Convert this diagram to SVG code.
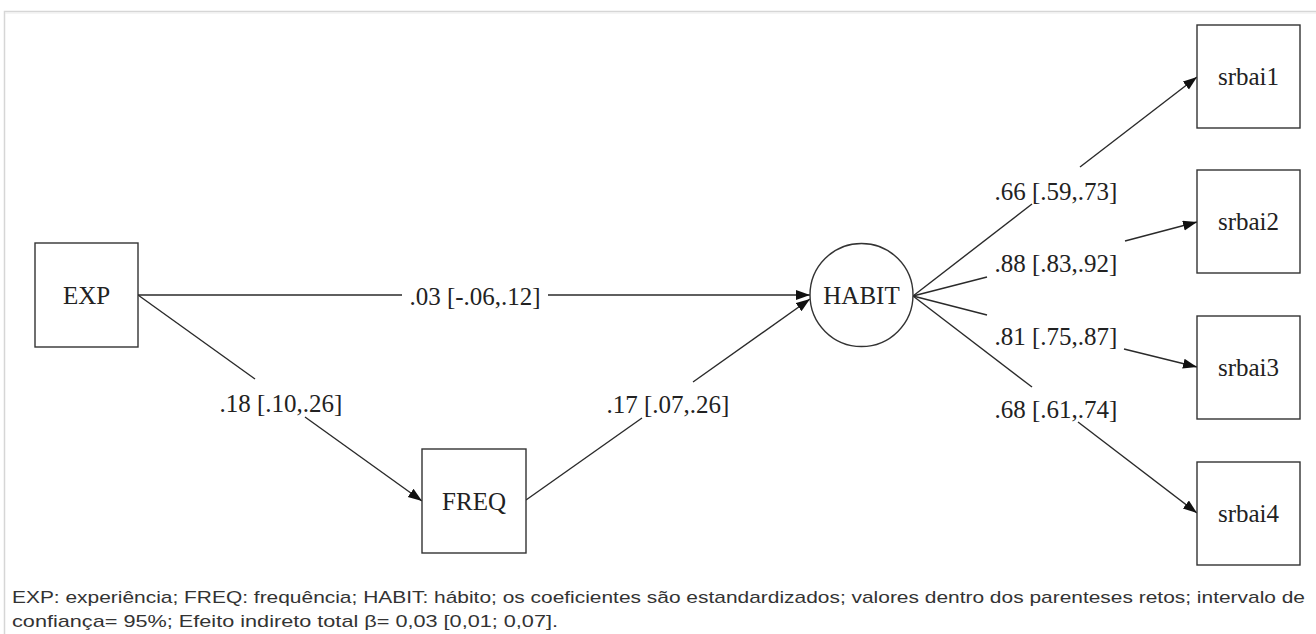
<svg xmlns="http://www.w3.org/2000/svg" width="1316" height="634" viewBox="0 0 1316 634">
<style>
.box{fill:#fff;stroke:#333;stroke-width:1.4}
.lbl{font-family:"Liberation Serif","Times New Roman",serif;font-size:25px;fill:#222;text-anchor:middle}
.edge{fill:none;stroke:#2a2a2a;stroke-width:1.4}
.cap{font-family:"Liberation Sans",Arial,sans-serif;font-size:17px;fill:#333}
</style>
<defs>
<marker id="arr" markerUnits="userSpaceOnUse" markerWidth="16" markerHeight="12" refX="14" refY="5" orient="auto">
<path d="M0,0 L14,5 L0,10 Z" fill="#111"/>
</marker>
</defs>
<rect width="1316" height="634" fill="#fff"/>
<path d="M4.5,634 L4.5,11.5 L1316,11.5" fill="none" stroke="#d6d6d6" stroke-width="1.5"/>
<line x1="5" y1="13" x2="1316" y2="13" stroke="#ececec" stroke-width="1"/>

<g id="connectors">
<path class="edge" d="M138,295 L402,295"/>
<path class="edge" d="M548,295 L810,295" marker-end="url(#arr)"/>
<path class="edge" d="M138,295 L255,379"/>
<path class="edge" d="M305,417 L422,501" marker-end="url(#arr)"/>
<path class="edge" d="M526,500 L642,418"/>
<path class="edge" d="M693,382 L810,299" marker-end="url(#arr)"/>
<path class="edge" d="M913,296 L1032,204"/>
<path class="edge" d="M1080,167 L1197,77" marker-end="url(#arr)"/>
<path class="edge" d="M913,296 L987,277"/>
<path class="edge" d="M1125,241 L1197,222" marker-end="url(#arr)"/>
<path class="edge" d="M913,296 L987,315"/>
<path class="edge" d="M1124,349 L1197,367" marker-end="url(#arr)"/>
<path class="edge" d="M913,296 L1032,387"/>
<path class="edge" d="M1078,422 L1197,513" marker-end="url(#arr)"/>
<text class="lbl" x="475" y="305">.03 [-.06,.12]</text>
<text class="lbl" x="281" y="412">.18 [.10,.26]</text>
<text class="lbl" x="668" y="413">.17 [.07,.26]</text>
<text class="lbl" x="1056" y="200">.66 [.59,.73]</text>
<text class="lbl" x="1056" y="272">.88 [.83,.92]</text>
<text class="lbl" x="1056" y="345">.81 [.75,.87]</text>
<text class="lbl" x="1056" y="418">.68 [.61,.74]</text>
</g>

<g id="EXP">
<rect class="box" x="35" y="243" width="103" height="104"/>
<text class="lbl" x="86.5" y="304">EXP</text>
</g>
<g id="FREQ">
<rect class="box" x="422" y="449" width="104" height="104"/>
<text class="lbl" x="474" y="510">FREQ</text>
</g>
<g id="HABIT">
<circle class="box" cx="861.5" cy="295" r="51.5"/>
<text class="lbl" x="861.5" y="304">HABIT</text>
</g>
<g id="srbai1">
<rect class="box" x="1197" y="25" width="103" height="103"/>
<text class="lbl" x="1248.5" y="85">srbai1</text>
</g>
<g id="srbai2">
<rect class="box" x="1197" y="170" width="103" height="103"/>
<text class="lbl" x="1248.5" y="230">srbai2</text>
</g>
<g id="srbai3">
<rect class="box" x="1197" y="316" width="103" height="103"/>
<text class="lbl" x="1248.5" y="376">srbai3</text>
</g>
<g id="srbai4">
<rect class="box" x="1197" y="462" width="103" height="103"/>
<text class="lbl" x="1248.5" y="522">srbai4</text>
</g>

<text class="cap" x="12" y="603" textLength="1293" lengthAdjust="spacingAndGlyphs">EXP: experiência; FREQ: frequência; HABIT: hábito; os coeficientes são estandardizados; valores dentro dos parenteses retos; intervalo de</text>
<text class="cap" x="12" y="627" textLength="546" lengthAdjust="spacingAndGlyphs">confiança= 95%; Efeito indireto total β= 0,03 [0,01; 0,07].</text>
</svg>
